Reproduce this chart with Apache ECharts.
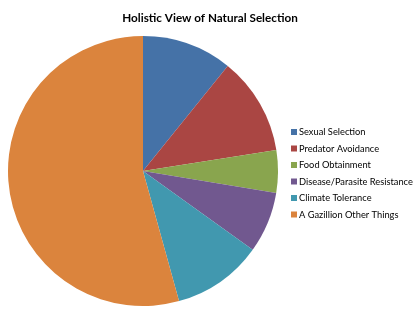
<!DOCTYPE html>
<html>
<head>
<meta charset="utf-8">
<script src="https://cdn.jsdelivr.net/npm/echarts@6/dist/echarts.min.js"></script>
<style>html,body{margin:0;padding:0;background:#fff}#c{width:420px;height:320px}</style>
</head>
<body>
<div id="c"></div>
<script>
const categories = ["Sexual Selection","Predator Avoidance","Food Obtainment","Disease/Parasite Resistance","Climate Tolerance","A Gazillion Other Things"];
const values = [10.8, 11.7, 5.1, 7.3, 10.8, 54.3];
const colors = ['#4572A7','#AA4643','#89A54E','#71588F','#4198AF','#DB843D'];

const chart = echarts.init(document.getElementById('c'), null, {renderer:'canvas'});
chart.setOption({
  animation:false,
  color: colors,
  title:{
    text:'Holistic View of Natural Selection',
    left:'center', top:7,
    textStyle:{fontFamily:'Lato', fontWeight:'bold', fontSize:11.7, color:'#000'}
  },
  legend:{
    orient:'vertical', left:286, top:121,
    itemWidth:6, itemHeight:6, itemGap:4.5,
    icon:'rect',
    textStyle:{fontFamily:'Lato', fontSize:9.3, color:'#000', lineHeight:12, padding:[0,0,0,-3]},
    data: categories
  },
  series:[{
    type:'pie',
    center:[143,171],
    radius:[0,135],
    startAngle:90,
    clockwise:true,
    label:{show:false},
    labelLine:{show:false},
    itemStyle:{borderWidth:0},
    emphasis:{disabled:true},
    data: categories.map((n,i)=>({name:n, value:values[i]}))
  }]
});
</script>
</body>
</html>
